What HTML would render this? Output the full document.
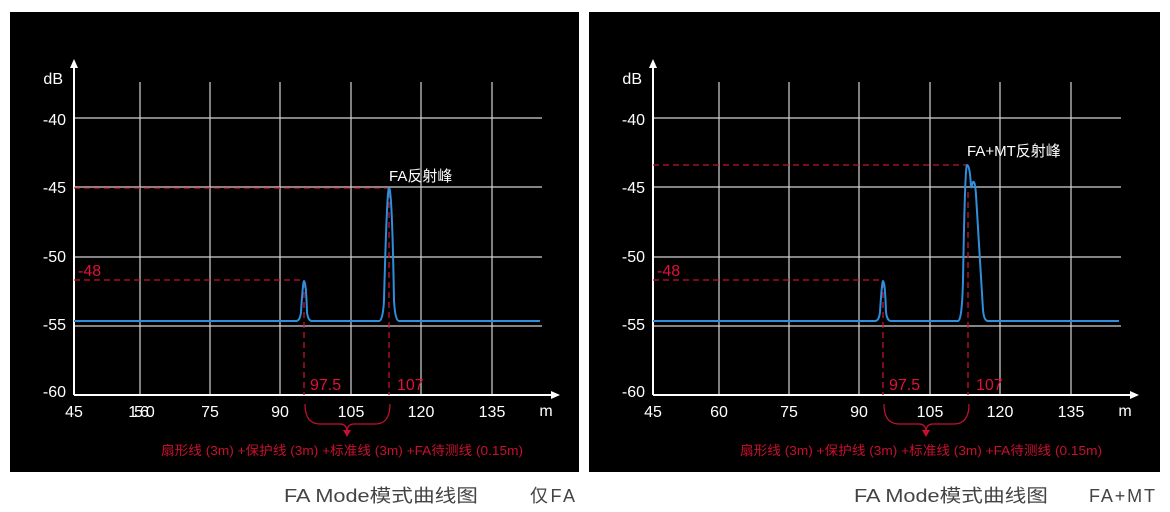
<!DOCTYPE html>
<html><head><meta charset="utf-8"><style>
body{margin:0;background:#fff;width:1170px;height:512px;overflow:hidden}
svg{display:block}
text{font-family:"Liberation Sans","Noto Sans CJK SC",sans-serif}
</style></head><body>
<svg width="1170" height="512" viewBox="0 0 1170 512">
<defs>
<g id="grid">
  <g stroke="#d4d4d4" stroke-width="1.2">
    <line x1="140" y1="82" x2="140" y2="395"/><line x1="210" y1="82" x2="210" y2="395"/>
    <line x1="280" y1="82" x2="280" y2="395"/><line x1="351" y1="82" x2="351" y2="395"/>
    <line x1="421" y1="82" x2="421" y2="395"/><line x1="492" y1="82" x2="492" y2="395"/>
    <line x1="74" y1="118" x2="542" y2="118"/><line x1="74" y1="187" x2="542" y2="187"/>
    <line x1="74" y1="257" x2="542" y2="257"/><line x1="74" y1="326" x2="542" y2="326"/>
  </g>
  <g stroke="#fff" stroke-width="2" fill="none">
    <line x1="74" y1="395" x2="554" y2="395"/><line x1="74" y1="395" x2="74" y2="66"/>
  </g>
  <polygon points="74,59 70,68 78,68" fill="#fff"/>
  <polygon points="560,395 551,391 551,399" fill="#fff"/>
  <g fill="#fff" font-size="16" text-anchor="end">
    <text x="63" y="84">dB</text>
    <text x="66" y="125">-40</text><text x="66" y="193">-45</text>
    <text x="66" y="262">-50</text><text x="66" y="330">-55</text><text x="66" y="397">-60</text>
  </g>
  <g fill="#fff" font-size="16" text-anchor="middle">
    <text x="74" y="417">45</text><text x="210" y="417">75</text>
    <text x="280" y="417">90</text><text x="351" y="417">105</text><text x="421" y="417">120</text>
    <text x="492" y="417">135</text><text x="546" y="416">m</text>
  </g>
  <g stroke="#c8102e" stroke-width="1.3" stroke-dasharray="6,4" fill="none">
    <line x1="74" y1="280" x2="304" y2="280"/><line x1="304" y1="282" x2="304" y2="395"/>
    <line x1="389" y1="192" x2="389" y2="395"/>
  </g>
  <g fill="#e0103a" font-size="16">
    <text x="78" y="276">-48</text><text x="310" y="390">97.5</text><text x="397" y="390">107</text>
  </g>
  <path d="M305,404 Q305,424 320,424 L340,424 Q347,424 347,432 Q347,424 354,424 L375,424 Q390,424 390,404" stroke="#c8102e" stroke-width="1.2" fill="none"/>
  <polygon points="347,437 343,430 351,430" fill="#c8102e"/>
  <text x="342" y="455" fill="#c8102e" font-size="13" text-anchor="middle" textLength="362" lengthAdjust="spacingAndGlyphs">扇形线 (3m) +保护线 (3m) +标准线 (3m) +FA待测线 (0.15m)</text>
</g>
</defs>

<rect x="10" y="12" width="569" height="460" fill="#000"/>
<rect x="589" y="12" width="571" height="460" fill="#000"/>

<use href="#grid"/>
<text x="140" y="417" fill="#fff" font-size="16" text-anchor="middle" letter-spacing="-3">1560</text>
<line x1="74" y1="188" x2="389" y2="188" stroke="#c8102e" stroke-width="1.3" stroke-dasharray="6,4"/>
<path d="M74,321 L296,321 Q300,321 301,312 Q303,281 304,281 Q306,281 307,312 Q308,321 312,321 L379,321 Q383,321 384,300 Q387,188 389,188 Q392,188 394,300 Q395,321 399,321 L540,321" stroke="#2f8fdc" stroke-width="2" fill="none"/>
<text x="389" y="181" fill="#fff" font-size="15">FA反射峰</text>

<g transform="translate(579,0)">
  <use href="#grid"/>
  <text x="140" y="417" fill="#fff" font-size="16" text-anchor="middle">60</text>
  <line x1="74" y1="165" x2="388" y2="165" stroke="#c8102e" stroke-width="1.3" stroke-dasharray="6,4"/>
  <path d="M74,321 L296,321 Q300,321 301,312 Q303,281 304,281 Q306,281 307,312 Q308,321 312,321 L379,321 Q383,321 384,280 Q386,165 388,165 Q391,165 392,188 L394,182 Q396,180 397,195 Q401,260 404,310 Q405,321 409,321 L540,321" stroke="#2f8fdc" stroke-width="2" fill="none"/>
  <text x="388" y="156" fill="#fff" font-size="15">FA+MT反射峰</text>
</g>

<g fill="#444" font-size="18">
  <text x="284" y="502" textLength="194" lengthAdjust="spacingAndGlyphs">FA Mode模式曲线图</text><text x="530" y="502" textLength="45">仅FA</text>
  <text x="854" y="502" textLength="194" lengthAdjust="spacingAndGlyphs">FA Mode模式曲线图</text><text x="1089" y="502" textLength="66">FA+MT</text>
</g>
</svg>
</body></html>
